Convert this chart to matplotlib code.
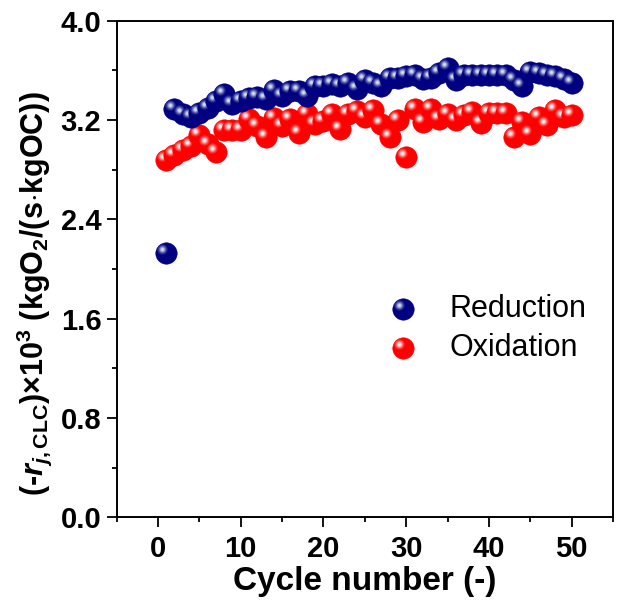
import numpy as np
import matplotlib
matplotlib.use("Agg")
import matplotlib.pyplot as plt
from matplotlib.transforms import ScaledTranslation
from matplotlib.colors import to_rgb

plt.rcParams["font.family"] = ["Liberation Sans", "DejaVu Sans"]
plt.rcParams["mathtext.fontset"] = "custom"
plt.rcParams["mathtext.rm"] = "Liberation Sans:bold"
plt.rcParams["mathtext.it"] = "Liberation Sans:italic:bold"
plt.rcParams["mathtext.bf"] = "Liberation Sans:bold"

cycles = np.arange(1, 51)
reduction = [2.13, 3.29, 3.245, 3.22, 3.255, 3.30, 3.35, 3.41, 3.33, 3.35,
             3.38, 3.385, 3.37, 3.44, 3.39, 3.43, 3.43, 3.39, 3.47, 3.47,
             3.49, 3.47, 3.50, 3.45, 3.52, 3.50, 3.47, 3.535, 3.535, 3.55,
             3.56, 3.53, 3.535, 3.58, 3.62, 3.52, 3.56, 3.56, 3.56, 3.56,
             3.56, 3.56, 3.52, 3.47, 3.59, 3.58, 3.56, 3.55, 3.53, 3.50]
oxidation = [2.88, 2.92, 2.96, 2.99, 3.08, 3.01, 2.94, 3.115, 3.115, 3.115,
             3.21, 3.155, 3.06, 3.215, 3.155, 3.21, 3.094, 3.245, 3.17, 3.19,
             3.245, 3.13, 3.245, 3.27, 3.22, 3.28, 3.17, 3.06, 3.20, 2.90,
             3.285, 3.18, 3.29, 3.21, 3.25, 3.20, 3.24, 3.26, 3.175, 3.255,
             3.255, 3.255, 3.06, 3.18, 3.09, 3.22, 3.16, 3.28, 3.22, 3.24]

DPI = 100
BALL = 15.5  # marker diameter in points

fig = plt.figure(figsize=(6.2, 6.07), dpi=DPI)
ax = fig.add_axes([0.188, 0.148, 0.801, 0.818])


def ball(ax, x, y, color, light, trans, z):
    # shaded sphere: flat base disc plus a soft highlight up and to the left
    base = np.array(to_rgb(color))
    light = np.array(to_rgb(light))
    ax.plot([x], [y], "o", ms=BALL, mfc=base, mec=base, mew=0.3,
            transform=trans, zorder=z, clip_on=False)
    sizes = [7.5, 6.0, 4.8, 3.6, 2.5, 1.5]
    mix = [0.15, 0.3, 0.5, 0.7, 0.86, 0.97]
    off = ScaledTranslation(-4.0 / DPI, 4.0 / DPI, fig.dpi_scale_trans)
    for k, (s, m) in enumerate(zip(sizes, mix)):
        c = base * (1 - m) + light * m
        ax.plot([x], [y], "o", ms=s, mfc=c, mec="none",
                transform=trans + off, zorder=z + 0.001 * (k + 1), clip_on=False)


for i, (c, v) in enumerate(zip(cycles, oxidation)):
    ball(ax, c, v, "#ff0000", "#ffffff", ax.transData, 2 + 0.01 * i)
for i, (c, v) in enumerate(zip(cycles, reduction)):
    ball(ax, c, v, "#000080", "#dce8f0", ax.transData, 3 + 0.01 * i)

ax.set_xlim(-5, 55)
ax.set_ylim(0, 4.0)
ax.set_xticks(np.arange(0, 51, 10))
ax.set_xticks(np.arange(-5, 56, 5), minor=True)
ax.set_yticks(np.arange(0, 4.01, 0.8))
ax.set_yticks(np.arange(0, 4.01, 0.4), minor=True)
ax.set_yticklabels([f"{t:.1f}" for t in np.arange(0, 4.01, 0.8)])

for s in ax.spines.values():
    s.set_linewidth(1.4)
ax.tick_params(which="both", direction="out", width=1.3, top=False, right=False)
ax.tick_params(which="major", length=7, labelsize=21, pad=4)
ax.tick_params(axis="x", which="major", pad=6)
ax.tick_params(which="minor", length=3.5)
for lab in ax.get_xticklabels() + ax.get_yticklabels():
    lab.set_fontweight("bold")

ax.set_xlabel("Cycle number (-)", fontsize=24, fontweight="bold", labelpad=2)
ax.set_ylabel(r"(-$r_{j,\mathrm{CLC}}$)$\times$10$^3$ (kgO$_2$/(s$\cdot$kgOC))",
              fontsize=22, fontweight="bold")
ax.yaxis.set_label_coords(-0.125, 0.45)

# legend drawn with the same shaded balls
legend_items = [("Reduction", "#000080", "#dce8f0"), ("Oxidation", "#ff0000", "#ffffff")]
for k, (name, col, lt) in enumerate(legend_items):
    yy = 0.419 - 0.0785 * k
    ball(ax, 0.5765, yy, col, lt, ax.transAxes, 5 + k)
    ax.text(0.671, yy, name, transform=ax.transAxes, fontsize=22,
            va="center", ha="left")

fig.savefig("out.png", dpi=DPI)
